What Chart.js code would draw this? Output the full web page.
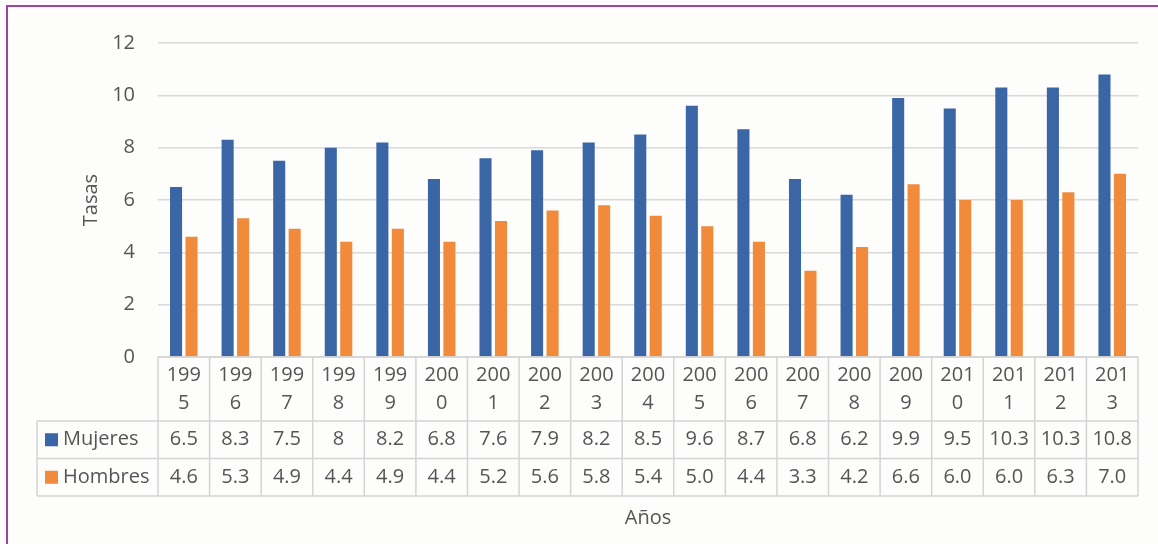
<!DOCTYPE html>
<html>
<head>
<meta charset="utf-8">
<script src="https://cdn.jsdelivr.net/npm/chart.js@4.4.1/dist/chart.umd.min.js"></script>
<style>
  html, body { margin: 0; padding: 0; background: #fdfdfc; }
  #wrap { position: relative; width: 1158px; height: 544px; overflow: hidden; }
  #frame { position: absolute; left: 6px; top: 5px; width: 1200px; height: 600px;
           border-left: 2px solid #9c46a3; border-top: 2px solid #9c46a3; pointer-events: none; }
  canvas { position: absolute; left: 0; top: 0; }
</style>
</head>
<body>
<div id="wrap">
  <canvas id="chart" width="1158" height="544"></canvas>
  <div id="frame"></div>
</div>
<script>
// data
const years = ["1995", "1996", "1997", "1998", "1999", "2000", "2001", "2002", "2003", "2004",
               "2005", "2006", "2007", "2008", "2009", "2010", "2011", "2012", "2013"];
const mujeres = [6.5, 8.3, 7.5, 8, 8.2, 6.8, 7.6, 7.9, 8.2, 8.5, 9.6, 8.7, 6.8, 6.2, 9.9, 9.5, 10.3, 10.3, 10.8];
const hombres = [4.6, 5.3, 4.9, 4.4, 4.9, 4.4, 5.2, 5.6, 5.8, 5.4, 5.0, 4.4, 3.3, 4.2, 6.6, 6.0, 6.0, 6.3, 7.0];
const yTicks = [0, 2, 4, 6, 8, 10, 12];

const BLUE = "#3a66a6";
const ORANGE = "#f18a3b";
const TEXT = "#555555";
const LINE = "#d4d4d4";
const FONT = "'Open Sans', sans-serif";

const series = [
  { label: "Mujeres", data: mujeres, color: BLUE, fmt: v => String(v) },
  { label: "Hombres", data: hombres, color: ORANGE, fmt: v => v.toFixed(1) },
];

// table drawn under the plot, columns taken from the x scale
const dataTable = {
  id: "dataTable",
  afterDraw(chart) {
    const ctx = chart.ctx;
    const x = chart.scales.x;
    const area = chart.chartArea;
    const n = years.length;
    const colW = (x.right - x.left) / n;
    const top = area.bottom;
    const yearRow = 64, rowH = 37.5;
    const rowsTop = top + yearRow;
    const bottom = rowsTop + rowH * series.length;
    const legendLeft = 37;

    ctx.save();
    ctx.strokeStyle = LINE;
    ctx.lineWidth = 1.5;
    ctx.beginPath();
    // horizontal lines
    ctx.moveTo(x.left, top); ctx.lineTo(x.right, top);
    for (let r = 0; r <= series.length; r++) {
      const yy = rowsTop + r * rowH;
      ctx.moveTo(legendLeft, yy); ctx.lineTo(x.right, yy);
    }
    // vertical lines
    for (let i = 0; i <= n; i++) {
      const xx = i < n ? x.getPixelForValue(i) - colW / 2 : x.getPixelForValue(n - 1) + colW / 2;
      ctx.moveTo(xx, top); ctx.lineTo(xx, bottom);
    }
    ctx.moveTo(legendLeft, rowsTop); ctx.lineTo(legendLeft, bottom);
    ctx.stroke();

    ctx.fillStyle = TEXT;
    ctx.font = "20px " + FONT;
    ctx.textAlign = "center";
    ctx.textBaseline = "middle";
    years.forEach((yr, i) => {
      const cx = x.getPixelForValue(i);
      ctx.fillText(yr.slice(0, 3), cx, top + 18);
      ctx.fillText(yr.slice(3), cx, top + 46);
    });

    series.forEach((s, r) => {
      const cy = rowsTop + r * rowH + rowH / 2;
      ctx.fillStyle = s.color;
      ctx.fillRect(45, cy - 6.5, 13, 13);
      ctx.fillStyle = TEXT;
      ctx.textAlign = "left";
      ctx.fillText(s.label, 63, cy);
      ctx.textAlign = "center";
      s.data.forEach((v, i) => ctx.fillText(s.fmt(v), x.getPixelForValue(i), cy));
    });

    ctx.fillText("Años", (x.left + x.right) / 2, 518);
    ctx.restore();
  }
};

new Chart(document.getElementById("chart"), {
  type: "bar",
  data: {
    labels: years,
    datasets: series.map(s => ({
      label: s.label,
      data: s.data,
      backgroundColor: s.color,
      categoryPercentage: 0.6,
      barPercentage: 0.78,
    })),
  },
  options: {
    responsive: false,
    devicePixelRatio: 1,
    animation: false,
    layout: { padding: { left: 79, right: 20, top: 43, bottom: 187 } },
    plugins: { legend: { display: false }, tooltip: { enabled: false } },
    scales: {
      x: {
        afterFit: scale => { scale.height = 0; },
        ticks: { display: false },
        grid: { display: false, drawTicks: false },
        border: { display: false },
      },
      y: {
        min: 0,
        max: 12,
        afterBuildTicks: scale => { scale.ticks = yTicks.map(v => ({ value: v })); },
        afterFit: scale => { scale.width = 79; },
        ticks: { color: TEXT, padding: 23, font: { family: FONT, size: 20 } },
        grid: { color: "#d9d9d9", lineWidth: 1.5, drawTicks: false },
        border: { display: false },
        title: { display: true, text: "Tasas", color: TEXT, padding: 0,
                 font: { family: FONT, size: 20 } },
      },
    },
  },
  plugins: [dataTable],
});
</script>
</body>
</html>
